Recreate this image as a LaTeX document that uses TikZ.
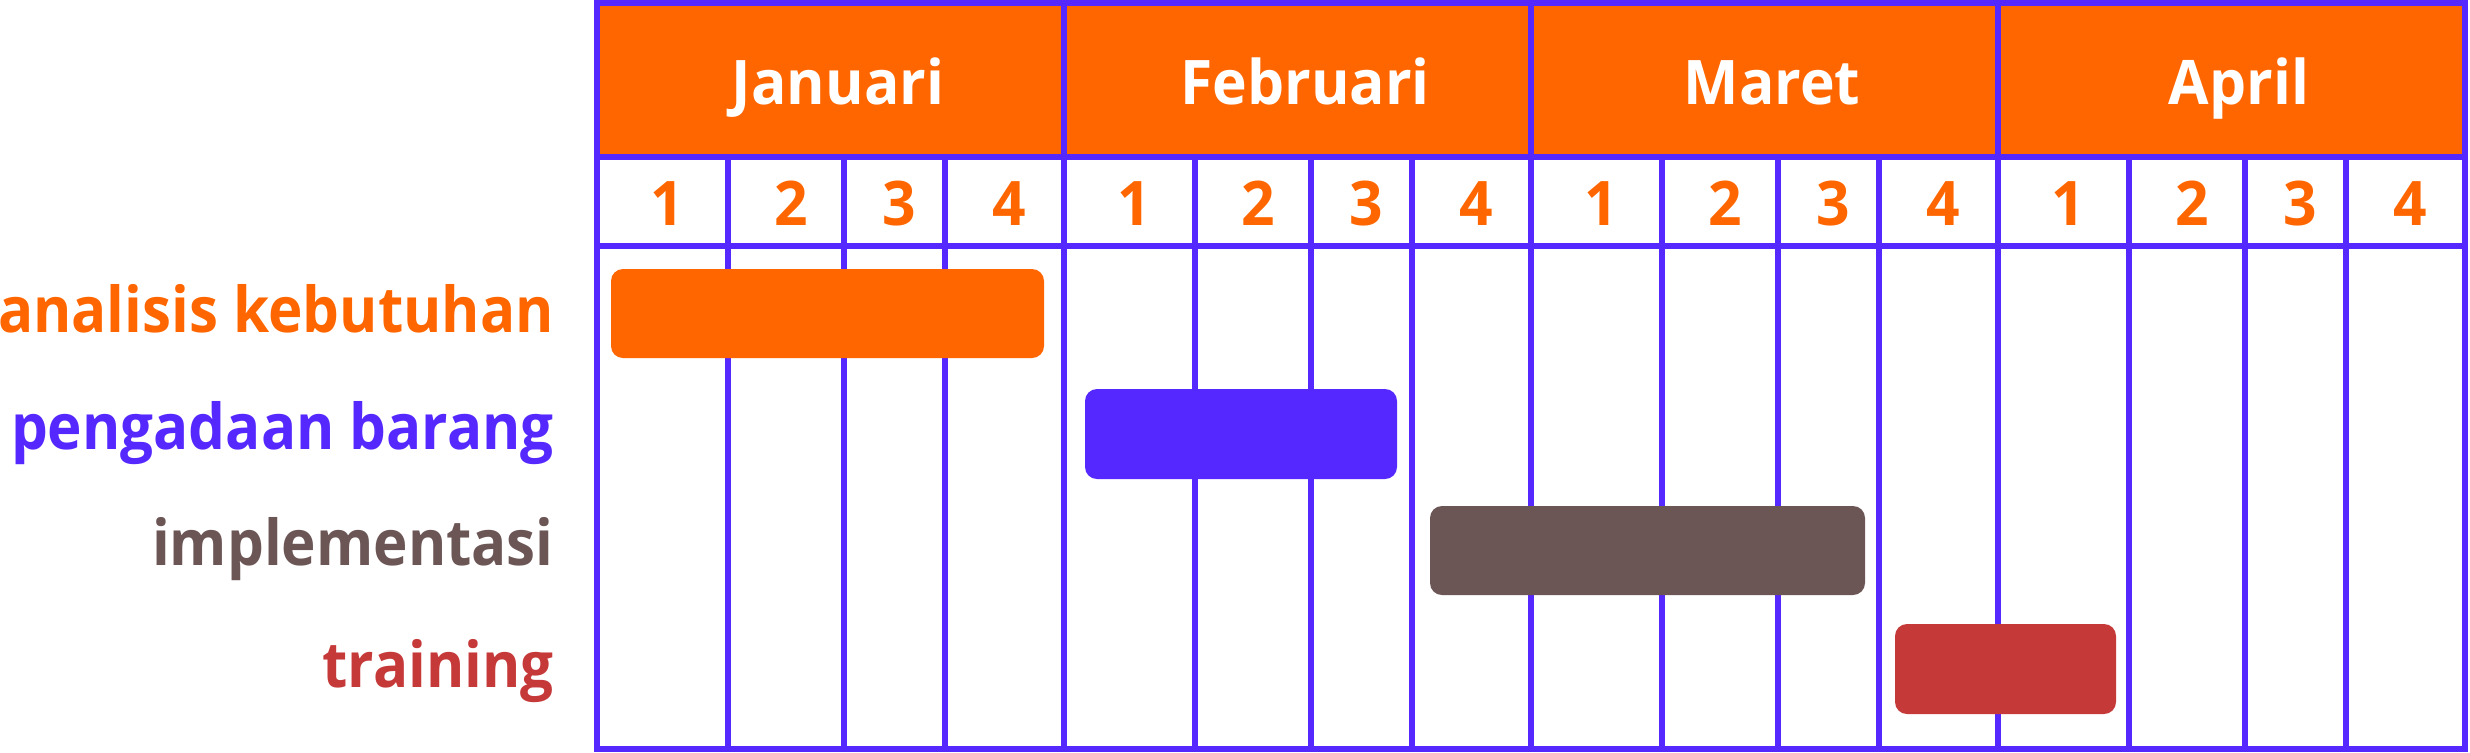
\documentclass[tikz,border=0pt]{standalone}
\usepackage{fontspec}
\setmainfont{Open Sans}
\newfontfamily\hurufjudul{Open Sans}[FakeStretch=0.955]
\newfontfamily\huruftugas{Open Sans}[FakeStretch=0.922]
\definecolor{oranye}{HTML}{FF6600}
\definecolor{ungu}{HTML}{5528FF}
\definecolor{coklat}{HTML}{6B5555}
\definecolor{merah}{HTML}{C63939}
\tikzset{
  garis/.style={draw=ungu,line width=3.2pt},
  bulan/.style={anchor=base,text=white,font=\hurufjudul\fontsize{35}{40}\selectfont\bfseries},
  minggu/.style={anchor=base,text=oranye,font=\hurufjudul\fontsize{35}{40}\selectfont\bfseries},
  tugas/.style={anchor=base east,inner sep=0pt,font=\huruftugas\fontsize{36}{40}\selectfont\bfseries},
  batang/.style={rounded corners=6.8pt}
}
\begin{document}
\begin{tikzpicture}[x=0.02cm,y=-0.02cm]
\useasboundingbox (0,0) rectangle (2470,752);
% header bulan
\fill[oranye] (597,3) rectangle (2465,157);
% garis tabel
\foreach \i in {0,1,2,3}{
  \foreach \dx in {131,247,348}{\draw[garis] (597+467*\i+\dx,157)--(597+467*\i+\dx,749);}
}
\foreach \x in {1064,1531,1998}{\draw[garis] (\x,3)--(\x,749);}
\draw[garis] (597,157)--(2465,157) (597,246)--(2465,246);
\draw[garis] (597,3) rectangle (2465,749);
% nama bulan dan minggu
\foreach \i/\bln in {0/Januari,1/Februari,2/Maret,3/April}{
  \node[bulan] (bln\i) at (597+467*\i+241,104) {\bln};
  \foreach \dx/\w in {70/1,194/2,302/3,412/4}{
    \node[minggu] (m\i\w) at (597+467*\i+\dx,225) {\w};
  }
}
% batang kegiatan
\fill[batang,oranye] (611,269) rectangle (1044,358);
\fill[batang,ungu] (1085,389) rectangle (1397,479);
\fill[batang,coklat] (1430,506) rectangle (1865,595);
\fill[batang,merah] (1895,624) rectangle (2116,714);
% nama kegiatan
\node[tugas,text=oranye] (t1) at (554,332) {analisis kebutuhan};
\node[tugas,text=ungu] (t2) at (554,449) {pengadaan barang};
\node[tugas,text=coklat] (t3) at (554,565) {implementasi};
\node[tugas,text=merah] (t4) at (554,687) {training};
\end{tikzpicture}
\end{document}
